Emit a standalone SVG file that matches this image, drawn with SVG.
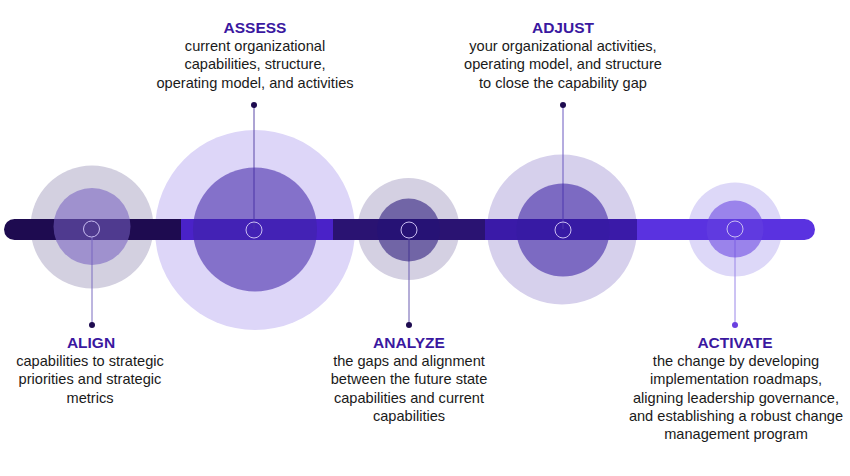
<svg xmlns="http://www.w3.org/2000/svg" width="850" height="476" viewBox="0 0 850 476">
<style>
.t{font-family:"Liberation Sans",Arial,sans-serif;font-weight:bold;font-size:15.5px;fill:#3a18a0;text-anchor:middle}
.b{font-family:"Liberation Sans",Arial,sans-serif;font-size:14.6px;fill:#1a1a1a;text-anchor:middle}
.ring{fill:none;stroke:#c9bdf2;stroke-width:1}
.in{fill-opacity:0.56}
</style>
<defs>
<clipPath id="barclip"><rect x="4" y="219" width="811" height="21" rx="10.5"/></clipPath>
</defs>
<rect width="850" height="476" fill="#ffffff"/>
<g id="outer">
<circle cx="92" cy="227" r="61.5" fill="#d3d0e0"/>
<circle cx="255" cy="230" r="100" fill="#ddd6f8"/>
<circle cx="408.5" cy="229" r="51" fill="#d4d0e2"/>
<circle cx="562" cy="229.5" r="75" fill="#d6d0ec"/>
<circle cx="735" cy="229.5" r="47" fill="#ddd8f8"/>
</g>
<g id="bar" clip-path="url(#barclip)">
<rect x="4" y="219" width="177" height="21" fill="#1e0b50"/>
<rect x="181" y="219" width="152" height="21" fill="#4a22c8"/>
<rect x="333" y="219" width="152" height="21" fill="#2a1372"/>
<rect x="485" y="219" width="152" height="21" fill="#3a1aa8"/>
<rect x="637" y="219" width="178" height="21" fill="#5a32e0"/>
</g>
<g id="connectors">
<line x1="92" y1="237" x2="92" y2="325" stroke="#7a6cc0" stroke-width="1"/>
<line x1="254" y1="105" x2="254" y2="229" stroke="#5a48a8" stroke-width="1"/>
<line x1="409" y1="238" x2="409" y2="325" stroke="#6a5cb0" stroke-width="1"/>
<line x1="563" y1="105" x2="563" y2="229" stroke="#6a58c0" stroke-width="1"/>
<line x1="735" y1="237" x2="735" y2="325" stroke="#9a86e8" stroke-width="1"/>
</g>
<g id="align">
<circle class="in" cx="92" cy="226.5" r="38.5" fill="#7560c0"/>
<circle class="ring" cx="91.5" cy="229" r="8"/>
<circle cx="92" cy="325" r="3" fill="#1e0b50"/>
<text class="t" x="91" y="348">ALIGN</text>
<text class="b" x="90" y="366">capabilities to strategic</text>
<text class="b" x="90" y="384.3">priorities and strategic</text>
<text class="b" x="90" y="402.6">metrics</text>
</g>
<g id="assess">
<circle class="in" cx="255" cy="229.5" r="62" fill="#3e22a6"/>
<circle class="ring" cx="254" cy="230" r="8"/>
<circle cx="254" cy="105" r="3" fill="#1e0b50"/>
<text class="t" x="255" y="33">ASSESS</text>
<text class="b" x="255" y="51">current organizational</text>
<text class="b" x="255" y="69.3">capabilities, structure,</text>
<text class="b" x="255" y="87.6">operating model, and activities</text>
</g>
<g id="analyze">
<circle class="in" cx="408.5" cy="230" r="31.5" fill="#241278"/>
<circle class="ring" cx="409" cy="230" r="8"/>
<circle cx="409" cy="325" r="3" fill="#1e0b50"/>
<text class="t" x="409" y="348">ANALYZE</text>
<text class="b" x="409" y="366">the gaps and alignment</text>
<text class="b" x="409" y="384.3">between the future state</text>
<text class="b" x="409" y="402.6">capabilities and current</text>
<text class="b" x="409" y="420.9">capabilities</text>
</g>
<g id="adjust">
<circle class="in" cx="563" cy="230" r="46.5" fill="#361ba0"/>
<circle class="ring" cx="563" cy="230" r="8"/>
<circle cx="563" cy="105" r="3" fill="#1e0b50"/>
<text class="t" x="563" y="33">ADJUST</text>
<text class="b" x="563" y="51">your organizational activities,</text>
<text class="b" x="563" y="69.3">operating model, and structure</text>
<text class="b" x="563" y="87.6">to close the capability gap</text>
</g>
<g id="activate">
<circle class="in" cx="735" cy="229" r="28.5" fill="#6541e0"/>
<circle class="ring" cx="735" cy="229" r="8"/>
<circle cx="735" cy="325" r="3" fill="#6a40e0"/>
<text class="t" x="735" y="348">ACTIVATE</text>
<text class="b" x="736" y="366">the change by developing</text>
<text class="b" x="736" y="384.3">implementation roadmaps,</text>
<text class="b" x="736" y="402.6">aligning leadership governance,</text>
<text class="b" x="736" y="420.9">and establishing a robust change</text>
<text class="b" x="736" y="439.2">management program</text>
</g>
</svg>
